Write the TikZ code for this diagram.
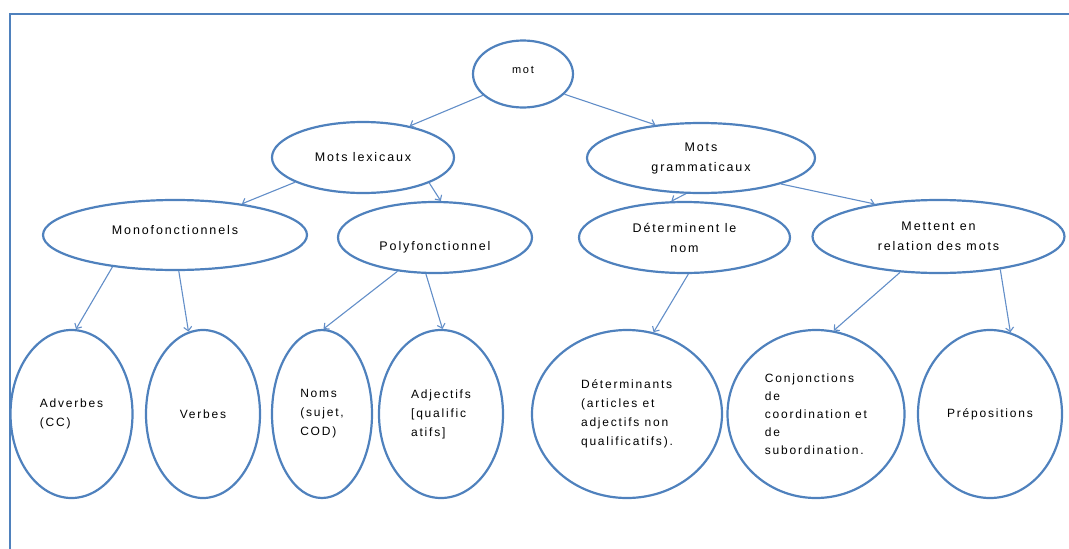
\documentclass[tikz,border=0pt]{standalone}
\usepackage{fontspec}
\setmainfont{Liberation Sans}[LetterSpace=15]
\usetikzlibrary{shapes.geometric,arrows.meta}
\definecolor{ovalblue}{RGB}{79,129,189}
\definecolor{linkblue}{RGB}{98,142,200}
\begin{document}
\begin{tikzpicture}[x=1pt,y=-1pt,
  oval/.style={ellipse,draw=ovalblue,line width=2.2pt,inner sep=0pt,text=black,font=\fontsize{12.5}{20}\selectfont,align=center},
  leaf/.style={oval,font=\fontsize{12}{19}\selectfont,align=left,minimum height=168pt},
  link/.style={draw=linkblue,line width=1.1pt,-{Straight Barb[length=4pt,width=8pt]}}]
\useasboundingbox (0,0) rectangle (1069,549);
\draw[ovalblue,line width=2.2pt] (10,549) -- (10,14) -- (1069,14);

\node[oval,minimum width=100pt,minimum height=67pt,font=\fontsize{11}{12}\selectfont,text height=8pt,text depth=10pt] (mot) at (523,74) {mot};
\node[oval,minimum width=182pt,minimum height=71pt] (lex) at (363,157.5) {Mots lexicaux};
\node[oval,minimum width=228pt,minimum height=70pt] (gram) at (701,158) {Mots\\grammaticaux};
\node[oval,minimum width=264pt,minimum height=70pt,text height=8pt,text depth=9pt] (mono) at (175,235) {Monofonctionnels};
\node[oval,minimum width=194pt,minimum height=71pt,text height=26pt,text depth=0pt] (poly) at (435,237.5) {Polyfonctionnel};
\node[oval,minimum width=211pt,minimum height=71pt] (detnom) at (684.5,237.5) {Déterminent le\\nom};
\node[oval,minimum width=252pt,minimum height=73pt] (rel) at (938.5,236.5) {Mettent en\\relation des mots};

\node[leaf,minimum width=122pt] (adv) at (71.5,414) {Adverbes\\(CC)};
\node[leaf,minimum width=114pt] (verb) at (203,414) {Verbes};
\node[leaf,minimum width=100pt] (noms) at (322,414) {Noms\\(sujet,\\COD)};
\node[leaf,minimum width=124pt] (adj) at (441,414) {Adjectifs\\{}[qualific\\atifs]};
\node[leaf,minimum width=190pt] (det) at (627,414) {Déterminants\\(articles et\\adjectifs non\\qualificatifs).};
\node[leaf,minimum width=177pt,font=\fontsize{12}{18}\selectfont] (conj) at (816,414) {Conjonctions\\de\\coordination et\\de\\subordination.};
\node[leaf,minimum width=144pt] (prep) at (990,414) {Prépositions};

\draw[link] (mot.208) -- (lex.34);
\draw[link] (mot.334) -- (gram.144);
\draw[link] (lex.200) -- (mono.25);
\draw[link] (lex.339) -- (poly.81);
\draw[link] (gram.247) -- (detnom.110);
\draw[link] (gram.342) -- (rel.153);
\draw[link] (mono.207) -- (adv.87);
\draw[link] (mono.276) -- (verb.100);
\draw[link] (poly.222) -- (noms.89);
\draw[link] (poly.256) -- (adj.89);
\draw[link] (detnom.276) -- (det.72);
\draw[link] (rel.223) -- (conj.78);
\draw[link] (rel.332) -- (prep.76);
\end{tikzpicture}
\end{document}
